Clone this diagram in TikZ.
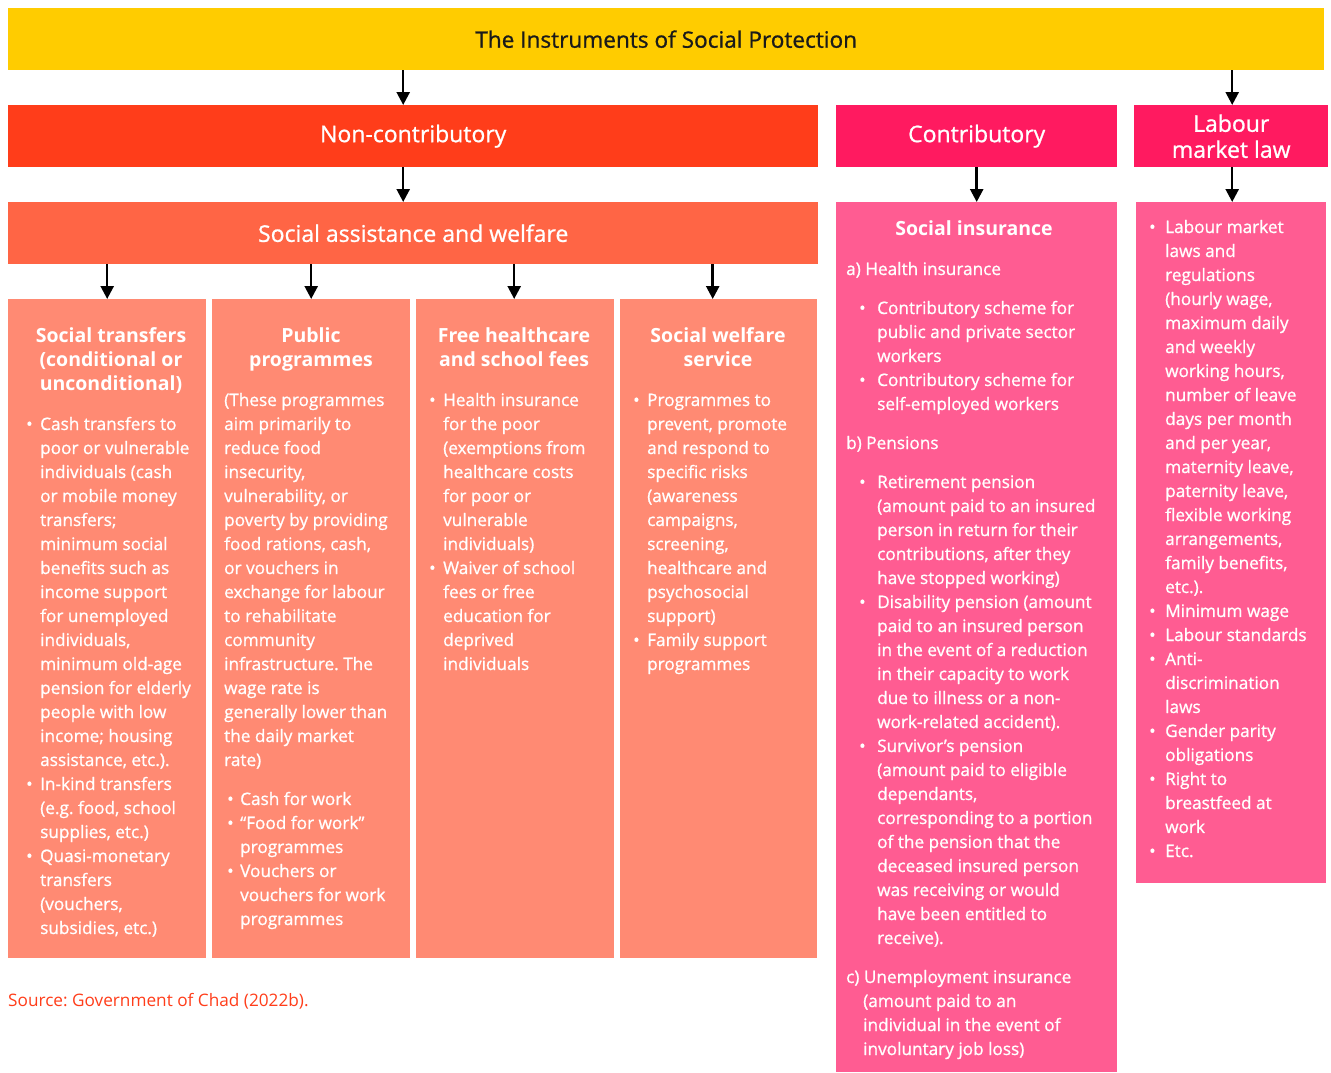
\documentclass[tikz,border=0pt]{standalone}
\usepackage{fontspec}
\setmainfont{Open Sans}
\newfontfamily\medfont{Open Sans}[FakeBold=0.9]
\frenchspacing
\usetikzlibrary{arrows.meta}
\definecolor{cyel}{HTML}{FFCC00}
\definecolor{cnc}{HTML}{FF3D1A}
\definecolor{csaw}{HTML}{FF6545}
\definecolor{csub}{HTML}{FF8A73}
\definecolor{ccon}{HTML}{FF1A60}
\definecolor{csi}{HTML}{FF5C92}
\definecolor{ctitle}{HTML}{1A1A1A}
\newlength{\bw}
\newcommand{\bu}{\makebox[\bw][l]{\textbullet}}
\tikzset{
  box/.style={draw=none, inner sep=0pt, anchor=north west},
  hdr/.style={text=white, font=\medfont\fontsize{23}{26}\selectfont, align=center},
  body/.style={text=white, inner sep=0pt, anchor=base west, font=\medfont\fontsize{17.2}{24}\selectfont},
  btitle/.style={text=white, inner sep=0pt, anchor=base, font=\fontsize{19.5}{24}\selectfont\bfseries},
  arr/.style={line width=2.5pt, -{Triangle[width=13pt,length=13pt]}},
}
\begin{document}
\begin{tikzpicture}[x=1pt,y=-1pt]
\useasboundingbox (0,0) rectangle (1331,1073);
% top
\node[box, fill=cyel, minimum width=1316pt, minimum height=62pt] (top) at (8,8) {};
\node[text=ctitle, font=\medfont\fontsize{22.6}{24}\selectfont] (toptxt) at (top.center) {The Instruments of Social Protection};
% second row
\node[box, fill=cnc, minimum width=810pt, minimum height=62pt] (nc) at (8,105) {};
\node[hdr] (nctxt) at (nc.center) {Non-contributory};
\node[box, fill=ccon, minimum width=281pt, minimum height=62pt] (con) at (836,105) {};
\node[hdr] (contxt) at (con.center) {Contributory};
\node[box, fill=ccon, minimum width=194pt, minimum height=62pt] (lab) at (1134,105) {};
\node[hdr] (labtxt) at (lab.center) {Labour\\market law};
% third row
\node[box, fill=csaw, minimum width=810pt, minimum height=62pt] (saw) at (8,202) {};
\node[hdr] (sawtxt) at (saw.center) {Social assistance and welfare};
\node[box, fill=csi, minimum width=281pt, minimum height=870pt] (si) at (836,202) {};
\node[box, fill=csi, minimum width=190pt, minimum height=681pt] (lb) at (1136,202) {};
% sub boxes
\node[box, fill=csub, minimum width=198pt, minimum height=659pt] (s1) at (8,299) {};
\node[box, fill=csub, minimum width=198pt, minimum height=659pt] (s2) at (212,299) {};
\node[box, fill=csub, minimum width=198pt, minimum height=659pt] (s3) at (416,299) {};
\node[box, fill=csub, minimum width=197pt, minimum height=659pt] (s4) at (620,299) {};
% arrows
\coordinate (a1) at ([xshift=-10pt]nc.north);
\coordinate (a2) at ([xshift=1pt]lab.north);
\draw[arr] (top.south -| a1) -- (a1);
\draw[arr] (top.south -| a2) -- (a2);
\draw[arr] (nc.south -| a1) -- (saw.north -| a1);
\draw[arr] (con.south) -- (si.north -| con.south);
\draw[arr] (lab.south -| a2) -- (lb.north -| a2);
\coordinate (b1) at ([xshift=0pt]s1.north);
\coordinate (b2) at ([xshift=0pt]s2.north);
\coordinate (b3) at ([xshift=-1pt]s3.north);
\coordinate (b4) at ([xshift=-6pt]s4.north);
\foreach \b in {b1,b2,b3,b4} \draw[arr] (saw.south -| \b) -- (\b);
% sub box 1
\node[btitle] (t1) at (111,342) {\begin{tabular}[t]{@{}c@{}}Social transfers\\(conditional or\\unconditional)\end{tabular}};
\setlength{\bw}{14pt}
\node[body] (x1) at (26,430) {\begin{tabular}[t]{@{}l@{}l@{}}
\bu&Cash transfers to\\
&poor or vulnerable\\
&individuals (cash\\
&or mobile money\\
&transfers;\\
&minimum social\\
&benefits such as\\
&income support\\
&for unemployed\\
&individuals,\\
&minimum old-age\\
&pension for elderly\\
&people with low\\
&income; housing\\
&assistance, etc.).\\
\bu&In-kind transfers\\
&(e.g. food, school\\
&supplies, etc.)\\
\bu&Quasi-monetary\\
&transfers\\
&(vouchers,\\
&subsidies, etc.)
\end{tabular}};
% sub box 2
\node[btitle] (t2) at (311,342) {\begin{tabular}[t]{@{}c@{}}Public\\programmes\end{tabular}};
\node[body] (x2a) at (224,406) {\begin{tabular}[t]{@{}l@{}}
(These programmes\\
aim primarily to\\
reduce food\\
insecurity,\\
vulnerability, or\\
poverty by providing\\
food rations, cash,\\
or vouchers in\\
exchange for labour\\
to rehabilitate\\
community\\
infrastructure. The\\
wage rate is\\
generally lower than\\
the daily market\\
rate)
\end{tabular}};
\setlength{\bw}{13pt}
\node[body] (x2b) at (227,805) {\begin{tabular}[t]{@{}l@{}l@{}}
\bu&Cash for work\\
\bu&“Food for work”\\
&programmes\\
\bu&Vouchers or\\
&vouchers for work\\
&programmes
\end{tabular}};
% sub box 3
\setlength{\bw}{14pt}
\node[btitle] (t3) at (514,342) {\begin{tabular}[t]{@{}c@{}}Free healthcare\\and school fees\end{tabular}};
\node[body] (x3) at (429,406) {\begin{tabular}[t]{@{}l@{}l@{}}
\bu&Health insurance\\
&for the poor\\
&(exemptions from\\
&healthcare costs\\
&for poor or\\
&vulnerable\\
&individuals)\\
\bu&Waiver of school\\
&fees or free\\
&education for\\
&deprived\\
&individuals
\end{tabular}};
% sub box 4
\node[btitle] (t4) at (718,342) {\begin{tabular}[t]{@{}c@{}}Social welfare\\service\end{tabular}};
\node[body] (x4) at (633,406) {\begin{tabular}[t]{@{}l@{}l@{}}
\bu&Programmes to\\
&prevent, promote\\
&and respond to\\
&specific risks\\
&(awareness\\
&campaigns,\\
&screening,\\
&healthcare and\\
&psychosocial\\
&support)\\
\bu&Family support\\
&programmes
\end{tabular}};
% social insurance
\node[btitle] (tsi) at (974,235) {Social insurance};
\node[body] (ha) at (846,275) {a) Health insurance};
\setlength{\bw}{18pt}
\node[body] (hb) at (859,314) {\begin{tabular}[t]{@{}l@{}l@{}}
\bu&Contributory scheme for\\
&public and private sector\\
&workers\\
\bu&Contributory scheme for\\
&self-employed workers
\end{tabular}};
\node[body] (pa) at (846,449) {b) Pensions};
\node[body] (pb) at (859,488) {\begin{tabular}[t]{@{}l@{}l@{}}
\bu&Retirement pension\\
&(amount paid to an insured\\
&person in return for their\\
&contributions, after they\\
&have stopped working)\\
\bu&Disability pension (amount\\
&paid to an insured person\\
&in the event of a reduction\\
&in their capacity to work\\
&due to illness or a non-\\
&work-related accident).\\
\bu&Survivor’s pension\\
&(amount paid to eligible\\
&dependants,\\
&corresponding to a portion\\
&of the pension that the\\
&deceased insured person\\
&was receiving or would\\
&have been entitled to\\
&receive).
\end{tabular}};
\node[body] (ua) at (846,983) {\begin{tabular}[t]{@{}l@{}l@{}}
\multicolumn{2}{@{}l@{}}{c) Unemployment insurance}\\
\makebox[17pt][l]{}&(amount paid to an\\
&individual in the event of\\
&involuntary job loss)
\end{tabular}};
% labour box
\setlength{\bw}{16pt}
\node[body] (lx) at (1149,233) {\begin{tabular}[t]{@{}l@{}l@{}}
\bu&Labour market\\
&laws and\\
&regulations\\
&(hourly wage,\\
&maximum daily\\
&and weekly\\
&working hours,\\
&number of leave\\
&days per month\\
&and per year,\\
&maternity leave,\\
&paternity leave,\\
&flexible working\\
&arrangements,\\
&family benefits,\\
&etc.).\\
\bu&Minimum wage\\
\bu&Labour standards\\
\bu&Anti-\\
&discrimination\\
&laws\\
\bu&Gender parity\\
&obligations\\
\bu&Right to\\
&breastfeed at\\
&work\\
\bu&Etc.
\end{tabular}};
% source
\node[body, text=cnc, font=\fontsize{17.2}{24}\selectfont] (src) at (8,1006) {Source: Government of Chad (2022b).};
\end{tikzpicture}
\end{document}
